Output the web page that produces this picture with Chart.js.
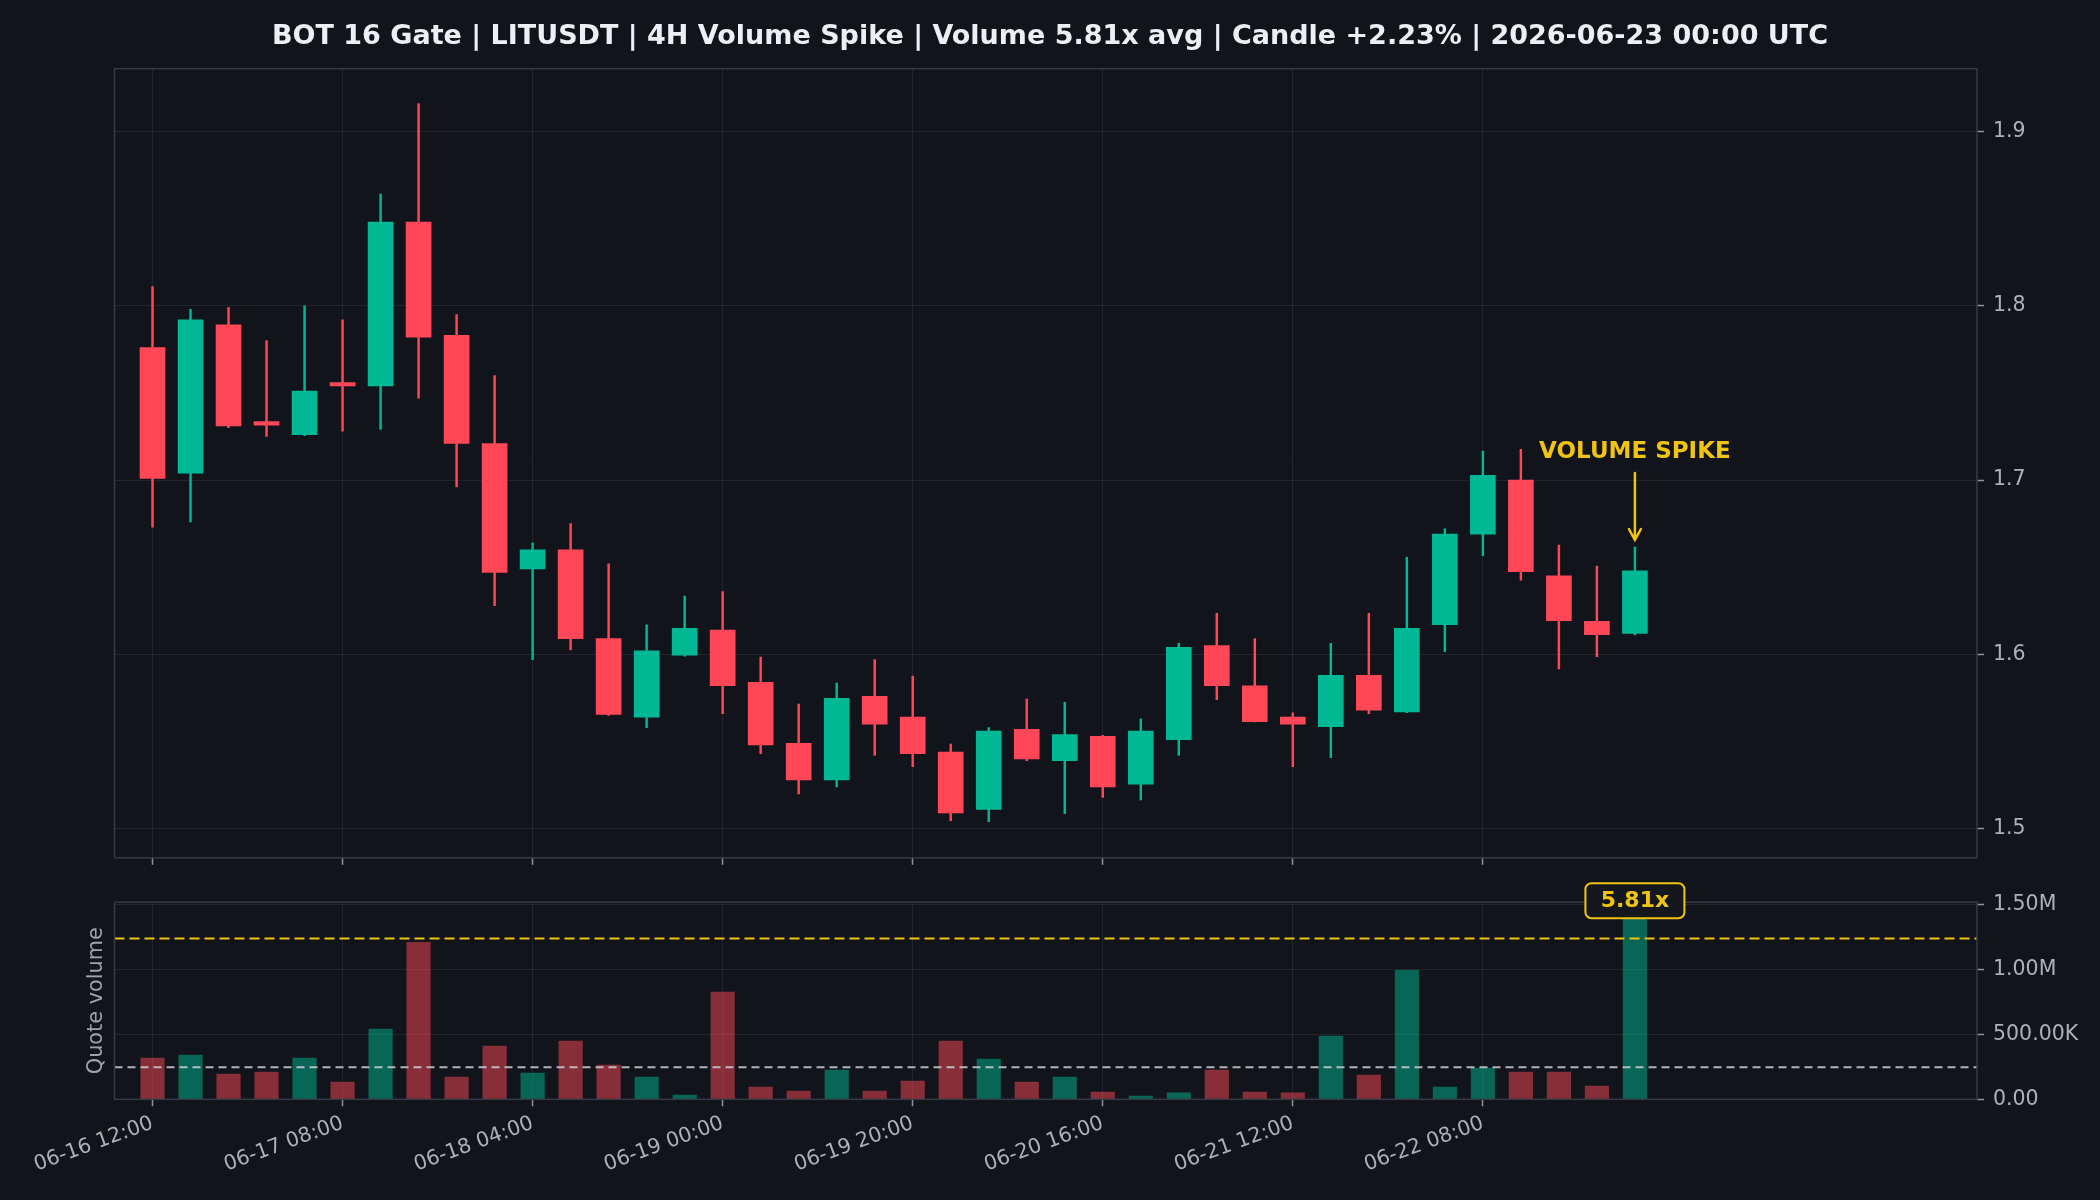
<!DOCTYPE html>
<html>
<head>
<meta charset="utf-8">
<script src="https://cdn.jsdelivr.net/npm/chart.js@4.4.1/dist/chart.umd.min.js"></script>
<style>
html, body { margin: 0; padding: 0; background: #11141b; width: 2100px; height: 1200px; overflow: hidden; }
canvas { position: absolute; left: 0; }
#price { top: 0; }
#vol { top: 870px; }
</style>
</head>
<body>
<canvas id="price" width="2100" height="880"></canvas>
<canvas id="vol" width="2100" height="330"></canvas>
<script>
// ---------------- data ----------------
const titleText = 'BOT 16 Gate | LITUSDT | 4H Volume Spike | Volume 5.81x avg | Candle +2.23% | 2026-06-23 00:00 UTC';

const opens  = [1.776, 1.704, 1.789, 1.7335, 1.726, 1.756, 1.754, 1.848, 1.783, 1.721,
                1.649, 1.660, 1.609, 1.564, 1.5995, 1.614, 1.584, 1.549, 1.528, 1.576,
                1.564, 1.544, 1.511, 1.557, 1.539, 1.553, 1.5255, 1.551, 1.605, 1.582,
                1.564, 1.5585, 1.588, 1.567, 1.617, 1.669, 1.700, 1.645, 1.619, 1.612];
const highs  = [1.811, 1.798, 1.799, 1.780, 1.800, 1.792, 1.864, 1.916, 1.795, 1.760,
                1.664, 1.675, 1.652, 1.617, 1.6335, 1.636, 1.5985, 1.5715, 1.5836, 1.597,
                1.5876, 1.5486, 1.558, 1.5744, 1.5725, 1.5535, 1.563, 1.6063, 1.6235, 1.609,
                1.5665, 1.6063, 1.6235, 1.6557, 1.672, 1.7166, 1.7176, 1.6627, 1.6507, 1.6616];
const lows   = [1.673, 1.676, 1.730, 1.725, 1.7255, 1.728, 1.729, 1.747, 1.696, 1.628,
                1.597, 1.6025, 1.565, 1.558, 1.599, 1.566, 1.543, 1.520, 1.524, 1.542,
                1.5356, 1.5046, 1.504, 1.539, 1.5086, 1.518, 1.5165, 1.542, 1.574, 1.5612,
                1.5356, 1.5407, 1.566, 1.5665, 1.6015, 1.6566, 1.6426, 1.5916, 1.5987, 1.6112];
const closes = [1.701, 1.792, 1.731, 1.7315, 1.751, 1.754, 1.848, 1.782, 1.721, 1.647,
                1.660, 1.609, 1.5655, 1.602, 1.615, 1.582, 1.548, 1.528, 1.5748, 1.560,
                1.543, 1.509, 1.556, 1.540, 1.554, 1.524, 1.556, 1.604, 1.582, 1.5614,
                1.560, 1.588, 1.568, 1.615, 1.669, 1.7027, 1.6474, 1.6193, 1.6113, 1.648];
const volumes = [318000, 341000, 195000, 210000, 318000, 133000, 541000, 1211000, 172000, 410000,
                 202000, 449000, 264000, 172000, 33000, 826000, 95000, 64000, 226000, 64000,
                 141000, 449000, 310000, 133000, 172000, 56000, 25000, 49000, 226000, 56000,
                 49000, 487000, 187000, 995000, 95000, 241000, 210000, 210000, 102000, 1435000];

const xTickIndex  = [0, 5, 10, 15, 20, 25, 30, 35];
const xTickLabels = ['06-16 12:00', '06-17 08:00', '06-18 04:00', '06-19 00:00',
                     '06-19 20:00', '06-20 16:00', '06-21 12:00', '06-22 08:00'];
const priceTicks = [1.5, 1.6, 1.7, 1.8, 1.9];
const priceTickLabels = ['1.5', '1.6', '1.7', '1.8', '1.9'];
const volTicks = [0, 500000, 1000000, 1500000];
const volTickLabels = ['0.00', '500.00K', '1.00M', '1.50M'];

const avgVolume = 247000;
const thresholdVolume = 1240000;
const spikeIndex = 39;
const spikeBadge = '5.81x';
const spikeText = 'VOLUME SPIKE';
const volumeAxisTitle = 'Quote volume';

const xMin = -1, xMax = 48;
const priceMin = 1.4833, priceMax = 1.936;
const volMin = 0, volMax = 1520000;

// ---------------- styles ----------------
const UP = '#00b894', DOWN = '#ff4757';
const UP_VOL = 'rgba(0,184,148,0.5)', DOWN_VOL = 'rgba(255,71,87,0.5)';
const YELLOW = '#f1c40f';
const GRID = 'rgba(255,255,255,0.07)';
const FRAME = '#353a45';
const TICK_MARK = '#8d929c';
const TICK_TEXT = '#abb0ba';
const FONT = 'DejaVu Sans';

Chart.defaults.font.family = FONT;
Chart.defaults.color = TICK_TEXT;

const idx = opens.map((_, i) => i);
const isUp = i => closes[i] >= opens[i];
const candleColors = idx.map(i => isUp(i) ? UP : DOWN);
const volColors = idx.map(i => isUp(i) ? UP_VOL : DOWN_VOL);

const framePlugin = {
  id: 'frame',
  afterDatasetsDraw(chart) {
    const { ctx, chartArea: a } = chart;
    ctx.save();
    ctx.strokeStyle = FRAME;
    ctx.lineWidth = 1.5;
    ctx.strokeRect(a.left, a.top, a.right - a.left, a.bottom - a.top);
    ctx.restore();
  }
};

const spikeArrowPlugin = {
  id: 'spikeArrow',
  afterDraw(chart) {
    const { ctx } = chart;
    const x = chart.scales.x.getPixelForValue(spikeIndex);
    const yHigh = chart.scales.y.getPixelForValue(highs[spikeIndex]);
    const tip = yHigh - 7, tail = tip - 67, textY = tail - 21;
    ctx.save();
    ctx.strokeStyle = YELLOW;
    ctx.lineWidth = 2.5;
    ctx.lineCap = 'round';
    ctx.beginPath();
    ctx.moveTo(x, tail); ctx.lineTo(x, tip);
    ctx.moveTo(x - 6, tip - 11); ctx.lineTo(x, tip); ctx.lineTo(x + 6, tip - 11);
    ctx.stroke();
    ctx.fillStyle = YELLOW;
    ctx.font = 'bold 23px "' + FONT + '"';
    ctx.textAlign = 'center';
    ctx.textBaseline = 'middle';
    ctx.fillText(spikeText, x, textY);
    ctx.restore();
  }
};

const badgePlugin = {
  id: 'badge',
  afterDraw(chart) {
    const { ctx } = chart;
    const x = chart.scales.x.getPixelForValue(spikeIndex);
    const cy = chart.scales.y.getPixelForValue(volumes[spikeIndex]) - 12.5;
    const w = 99, h = 35, r = 6;
    ctx.save();
    ctx.beginPath();
    ctx.roundRect(x - w / 2, cy - h / 2, w, h, r);
    ctx.fillStyle = '#14171e';
    ctx.fill();
    ctx.lineWidth = 2;
    ctx.strokeStyle = YELLOW;
    ctx.stroke();
    ctx.fillStyle = YELLOW;
    ctx.font = 'bold 22px "' + FONT + '"';
    ctx.textAlign = 'center';
    ctx.textBaseline = 'middle';
    ctx.fillText(spikeBadge, x, cy + 1);
    ctx.restore();
  }
};

const xTicksBuild = s => { s.ticks = xTickIndex.map(v => ({ value: v })); };

// ---------------- price chart ----------------
new Chart(document.getElementById('price'), {
  type: 'bar',
  data: {
    datasets: [
      {
        label: 'body',
        data: idx.map(i => ({ x: i, y: [opens[i], closes[i]] })),
        backgroundColor: candleColors,
        borderWidth: 0,
        barThickness: 25,
        grouped: false,
        order: 0
      },
      {
        label: 'wick',
        data: idx.map(i => ({ x: i, y: [lows[i], highs[i]] })),
        backgroundColor: candleColors,
        borderWidth: 0,
        barThickness: 1.8,
        grouped: false,
        order: 1
      }
    ]
  },
  options: {
    responsive: false,
    animation: false,
    layout: { padding: 0 },
    plugins: {
      legend: { display: false },
      tooltip: { enabled: false },
      title: {
        display: true,
        text: titleText,
        color: '#eceff4',
        font: { family: FONT, size: 27, weight: 'bold', lineHeight: 1.2 },
        padding: { top: 21, bottom: 15.3 }
      }
    },
    scales: {
      x: {
        type: 'linear',
        min: xMin, max: xMax,
        offset: false,
        afterBuildTicks: xTicksBuild,
        afterFit: s => { s.height = 22.2; },
        ticks: { display: false },
        grid: { color: GRID, offset: false, drawTicks: true, tickLength: 7, tickColor: TICK_MARK, tickWidth: 1.5 },
        border: { display: false }
      },
      y: {
        position: 'right',
        min: priceMin, max: priceMax,
        afterBuildTicks: s => { s.ticks = priceTicks.map(v => ({ value: v })); },
        afterFit: s => { s.width = 123; },
        ticks: {
          color: TICK_TEXT, font: { family: FONT, size: 20.5 }, padding: 9,
          callback: (v, i) => priceTickLabels[i]
        },
        grid: { color: GRID, drawTicks: true, tickLength: 7, tickColor: TICK_MARK, tickWidth: 1.5 },
        border: { display: false }
      },
      yLeft: {
        type: 'linear',
        position: 'left',
        afterFit: s => { s.width = 114.5; },
        ticks: { display: false },
        grid: { display: false, drawTicks: false },
        border: { display: false }
      }
    }
  },
  plugins: [framePlugin, spikeArrowPlugin]
});

// ---------------- volume chart ----------------
new Chart(document.getElementById('vol'), {
  type: 'bar',
  data: {
    datasets: [
      {
        type: 'line',
        label: 'threshold',
        data: [{ x: xMin, y: thresholdVolume }, { x: xMax, y: thresholdVolume }],
        borderColor: YELLOW,
        borderWidth: 2.2,
        borderDash: [10, 5],
        pointRadius: 0,
        order: 0
      },
      {
        type: 'line',
        label: 'average',
        data: [{ x: xMin, y: avgVolume }, { x: xMax, y: avgVolume }],
        borderColor: 'rgba(205,208,214,0.85)',
        borderWidth: 1.8,
        borderDash: [8, 5],
        pointRadius: 0,
        order: 0
      },
      {
        label: 'volume',
        data: idx.map(i => ({ x: i, y: volumes[i] })),
        backgroundColor: volColors,
        borderWidth: 0,
        barThickness: 23.5,
        grouped: false,
        order: 1
      }
    ]
  },
  options: {
    responsive: false,
    animation: false,
    layout: { padding: { left: 0, right: 0, top: 32.2, bottom: 0 } },
    plugins: { legend: { display: false }, tooltip: { enabled: false } },
    scales: {
      x: {
        type: 'linear',
        min: xMin, max: xMax,
        offset: false,
        afterBuildTicks: xTicksBuild,
        afterFit: s => { s.height = 100.7; },
        ticks: {
          color: TICK_TEXT, font: { family: FONT, size: 20.5 },
          minRotation: 20, maxRotation: 20, autoSkip: false, padding: 5,
          callback: (v, i) => xTickLabels[i]
        },
        grid: { color: GRID, offset: false, drawTicks: true, tickLength: 7, tickColor: TICK_MARK, tickWidth: 1.5 },
        border: { display: false }
      },
      y: {
        position: 'right',
        min: volMin, max: volMax,
        afterBuildTicks: s => { s.ticks = volTicks.map(v => ({ value: v })); },
        afterFit: s => { s.width = 123; },
        ticks: {
          color: TICK_TEXT, font: { family: FONT, size: 20.5 }, padding: 9,
          callback: (v, i) => volTickLabels[i]
        },
        grid: { color: GRID, drawTicks: true, tickLength: 7, tickColor: TICK_MARK, tickWidth: 1.5 },
        border: { display: false }
      },
      yTitle: {
        type: 'linear',
        position: 'left',
        afterFit: s => { s.width = 114.5; },
        ticks: { display: false },
        grid: { display: false, drawTicks: false },
        border: { display: false },
        title: {
          display: true,
          text: volumeAxisTitle,
          color: '#9ea3ad',
          font: { family: FONT, size: 20.8 },
          padding: { top: 84, bottom: 0 }
        }
      }
    }
  },
  plugins: [framePlugin, badgePlugin]
});
</script>
</body>
</html>
